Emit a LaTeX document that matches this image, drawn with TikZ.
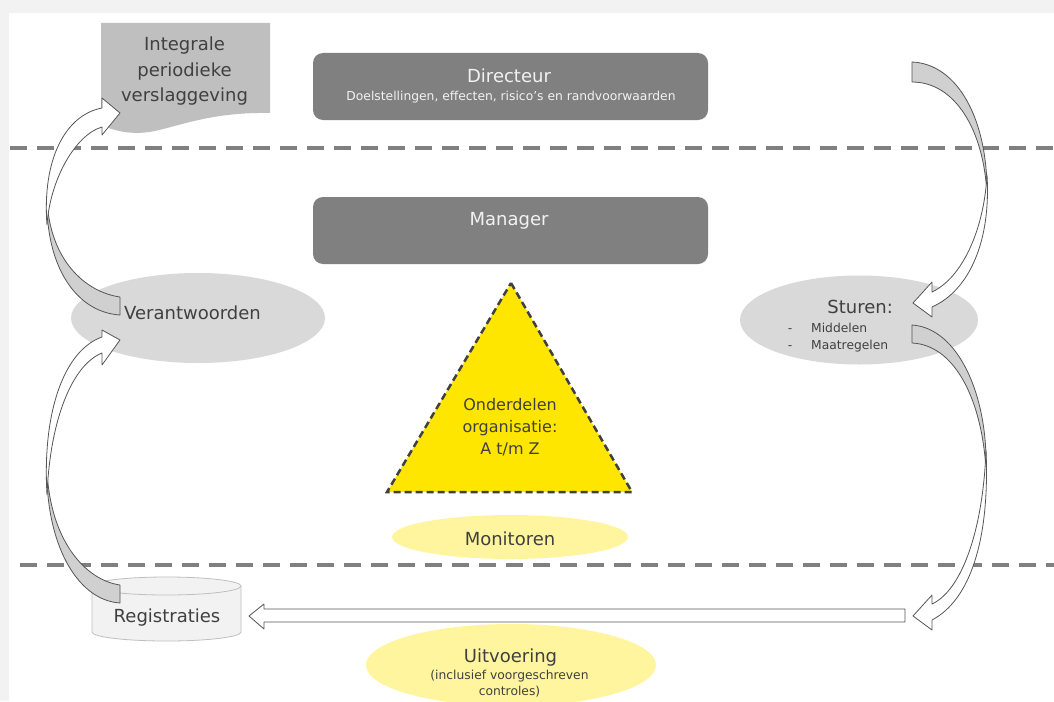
\documentclass[tikz,border=0pt]{standalone}
\usepackage{fontspec}
\setmainfont{DejaVu Sans}
\usetikzlibrary{shapes.geometric}

\definecolor{band}{HTML}{F2F2F2}
\definecolor{boxgray}{HTML}{808080}
\definecolor{docgray}{HTML}{BFBFBF}
\definecolor{ovalgray}{HTML}{D9D9D9}
\definecolor{txtgray}{HTML}{404040}
\definecolor{eyyellow}{HTML}{FFE600}
\definecolor{paleyellow}{HTML}{FFF59E}
\definecolor{arrowgray}{HTML}{D0D0D0}
\definecolor{arrowline}{HTML}{555555}
\definecolor{linegray}{HTML}{808080}

\begin{document}
\begin{tikzpicture}[x=1pt,y=-1pt,
    big/.style={font=\fontsize{18}{22}\selectfont, text=txtgray, inner sep=0pt, anchor=base},
    small/.style={font=\fontsize{12.3}{15}\selectfont, text=txtgray, inner sep=0pt, anchor=base},
    lane/.style={draw=linegray, line width=4pt, dash pattern=on 17pt off 10pt},
    level/.style={rectangle, rounded corners=10pt, fill=boxgray, minimum width=395pt, minimum height=67pt},
    oval/.style={ellipse, fill=ovalgray, inner sep=0pt},
    back/.style={fill=arrowgray, draw=arrowline, line width=0.8pt, line join=round},
    front/.style={fill=white, draw=arrowline, line width=0.8pt, line join=round}]

    \useasboundingbox (0,0) rectangle (1054,701);
    \fill [band] (0,0) rectangle (1054,701);
    \fill [white] (9,13) rectangle (1054,701);

    % lanes
    \draw [lane] (10,148) -- (1054,148);
    \draw [lane] (20,565) -- (1054,565);

    % levels
    \node [level] (directeur) at (510.5,86.5) {};
    \node [level] (manager) at (510.5,230.5) {};
    \node [big, text=band] (dirlabel) at (509,82) {Directeur};
    \node [small, text=band] (doelen) at (511,100) {Doelstellingen, effecten, risico's en randvoorwaarden};
    \node [big, text=band] (manlabel) at (509,225) {Manager};

    % report
    \fill [docgray] (101,23) -- (270,23) -- (270,113)
        .. controls (215,112) and (185,124) .. (155,131)
        .. controls (130,136) and (113,130) .. (101,125) -- cycle;
    \foreach \t [count=\i] in {Integrale,periodieke,verslaggeving}
    {
        \node [big] (verslag\i) at (184.5,26+25*\i) {\t};
    }

    % ovals
    \node [oval, minimum width=254pt, minimum height=90pt] (verantw) at (198,318) {};
    \node [oval, minimum width=238pt, minimum height=89pt] (sturen) at (859,320) {};
    \node [oval, fill=paleyellow, minimum width=236pt, minimum height=44pt] (monitor) at (510,537) {};
    \node [oval, fill=paleyellow, minimum width=290pt, minimum height=82pt] (uitvoer) at (511,665) {};
    \node [big, anchor=base west] (verantwlabel) at (124,319) {Verantwoorden};
    \node [big, anchor=base east] (sturenlabel) at (893,313) {Sturen:};
    \foreach \y/\t in {332/Middelen,349/Maatregelen}
    {
        \node [small] (dash\y) at (790,\y) {-};
        \node [small, anchor=base west] (item\y) at (811,\y) {\t};
    }
    \node [big] (monitorlabel) at (510,545) {Monitoren};
    \node [big] (uitvoerlabel) at (510.5,662) {Uitvoering};
    \node [small] (incl) at (509.5,679) {(inclusief voorgeschreven};
    \node [small] (contr) at (509.5,695) {controles)};

    % organisation
    \draw [fill=eyyellow, draw=txtgray, line width=2.5pt, dash pattern=on 7pt off 4pt] (511,283) -- (632,492) -- (387,492) -- cycle;
    \foreach \y/\t in {410/Onderdelen,432/organisatie:,454/{A t/m Z}}
    {
        \node [font=\fontsize{16}{20}\selectfont, text=txtgray, inner sep=0pt, anchor=base] (org\y) at (510,\y) {\t};
    }

    % registrations
    \filldraw [fill=band, draw=docgray, line width=0.8pt] (92,586) -- (92,632) arc (180:360:74.5pt and 9pt) -- (241,586);
    \filldraw [fill=band, draw=docgray, line width=0.8pt] (166.5,586) ellipse (74.5pt and 9pt);
    \node [big] (regis) at (167,622) {Registraties};

    % execution arrow
    \draw [front] (905,609) -- (264,609) -- (264,604) -- (249,616) -- (264,629) -- (264,622) -- (905,622) -- cycle;

    % steering arrows
    \draw [back] (912,62) .. controls (958,64) and (988,120) .. (987,195)
        .. controls (984,130) and (955,82) .. (912,82) -- cycle;
    \draw [front] (987,175) .. controls (991,240) and (970,290) .. (932,307)
        -- (932,317) -- (913,303) -- (932,282) -- (932,292)
        .. controls (962,278) and (984,230) .. (987,175) -- cycle;
    \draw [back] (912,325) .. controls (958,328) and (988,395) .. (986,470)
        .. controls (982,400) and (955,345) .. (912,343) -- cycle;
    \draw [front] (986,450) .. controls (990,540) and (970,600) .. (932,620)
        -- (932,630) -- (913,616) -- (932,595) -- (932,604)
        .. controls (962,590) and (983,530) .. (986,450) -- cycle;

    % reporting arrows
    \draw [back] (47,200) .. controls (46,265) and (75,312) .. (120,315)
        -- (120,297) .. controls (85,292) and (50,260) .. (47,200) -- cycle;
    \draw [front] (47,225) .. controls (42,160) and (65,115) .. (102,108)
        -- (102,98) -- (120,113) -- (102,135) -- (102,127)
        .. controls (75,135) and (50,180) .. (47,225) -- cycle;
    \draw [back] (47,470) .. controls (46,540) and (75,600) .. (120,603)
        -- (120,585) .. controls (85,580) and (50,540) .. (47,470) -- cycle;
    \draw [front] (47,495) .. controls (42,410) and (65,350) .. (102,337)
        -- (102,330) -- (120,340) -- (102,365) -- (102,353)
        .. controls (72,365) and (50,420) .. (47,495) -- cycle;
\end{tikzpicture}
\end{document}
